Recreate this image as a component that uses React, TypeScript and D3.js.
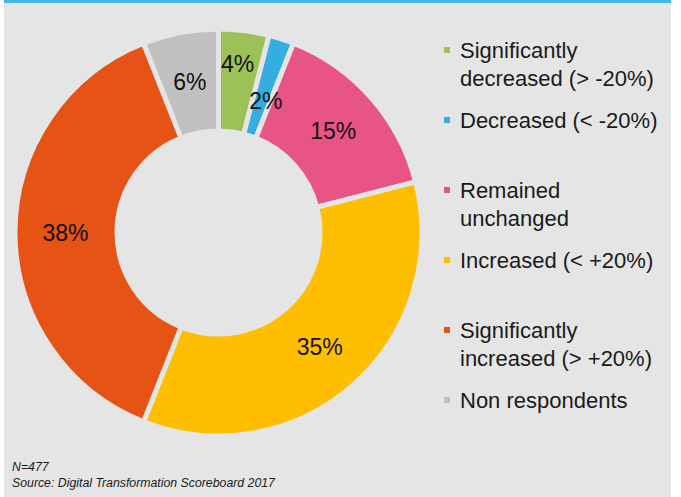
import React from "react";
import * as d3 from "d3";

const categories = [
  "Significantly decreased (> -20%)",
  "Decreased (< -20%)",
  "Remained unchanged",
  "Increased (< +20%)",
  "Significantly increased (> +20%)",
  "Non respondents",
];
const legendLines = [
  ["Significantly", "decreased (> -20%)"],
  ["Decreased (< -20%)"],
  ["Remained", "unchanged"],
  ["Increased (< +20%)"],
  ["Significantly", "increased (> +20%)"],
  ["Non respondents"],
];
const values = [4, 2, 15, 35, 38, 6];
const colors = ["#9bc157", "#35ade0", "#e85485", "#ffbf00", "#e65314", "#c0c0c0"];
// label nudges (pixels) for small slices
const labelNudgeY = [-17, 14, 0, 0, 0, 0];
const footnotes = ["N=477", "Source: Digital Transformation Scoreboard 2017"];

const W = 681;
const H = 497;
const BG = "#e5e5e5";

export default function App() {
  const cx = 218.5;
  const cy = 232.5;
  const outerR = 203.5;
  const innerR = 101.5;
  const pie = d3.pie<number>().sort(null).value((d) => d);
  const arcs = pie(values);
  const arc = d3.arc<d3.PieArcDatum<number>>().innerRadius(innerR).outerRadius(outerR);
  const labelArc = d3
    .arc<d3.PieArcDatum<number>>()
    .innerRadius(153)
    .outerRadius(153);
  const font = "'Liberation Sans', Arial, sans-serif";
  const legendY = d3.scaleLinear().domain([0, 1]).range([50, 120]);

  return (
    <svg
      width={W}
      height={H}
      style={{ position: "absolute", left: 0, top: 0, display: "block" }}
    >
      <rect x={0} y={0} width={W} height={H} fill="#ffffff" />
      <rect x={4} y={0} width={667} height={H} fill={BG} />
      <rect x={4} y={0} width={667} height={3} fill="#47b6e2" />
      <g transform={`translate(${cx},${cy})`}>
        {arcs.map((a, i) => (
          <path key={i} d={arc(a) || ""} fill={colors[i]} stroke={BG} strokeWidth={5} />
        ))}
        {arcs.map((a, i) => {
          const [x, y] = labelArc.centroid(a);
          return (
            <text
              key={"l" + i}
              x={x}
              y={y + labelNudgeY[i]}
              textAnchor="middle"
              dominantBaseline="central"
              fontFamily={font}
              fontSize={23}
              fill="#111"
            >
              {Math.round(values[i])}%
            </text>
          );
        })}
      </g>
      <g>
        {legendLines.map((lines, i) => {
          const y0 = legendY(i);
          return (
            <g key={"g" + i}>
              <rect x={444} y={y0 - 3} width={6} height={6} fill={colors[i]} />
              {lines.map((ln, j) => (
                <text
                  key={j}
                  x={460}
                  y={y0 + j * 28}
                  dominantBaseline="central"
                  fontFamily={font}
                  fontSize={22}
                  fill="#1a1a1a"
                >
                  {ln}
                </text>
              ))}
            </g>
          );
        })}
      </g>
      {footnotes.map((t, i) => (
        <text
          key={"f" + i}
          x={12}
          y={467 + i * 16}
          dominantBaseline="central"
          fontFamily={font}
          fontStyle="italic"
          fontSize={12.3}
          fill="#1a1a1a"
        >
          {t}
        </text>
      ))}
    </svg>
  );
}
